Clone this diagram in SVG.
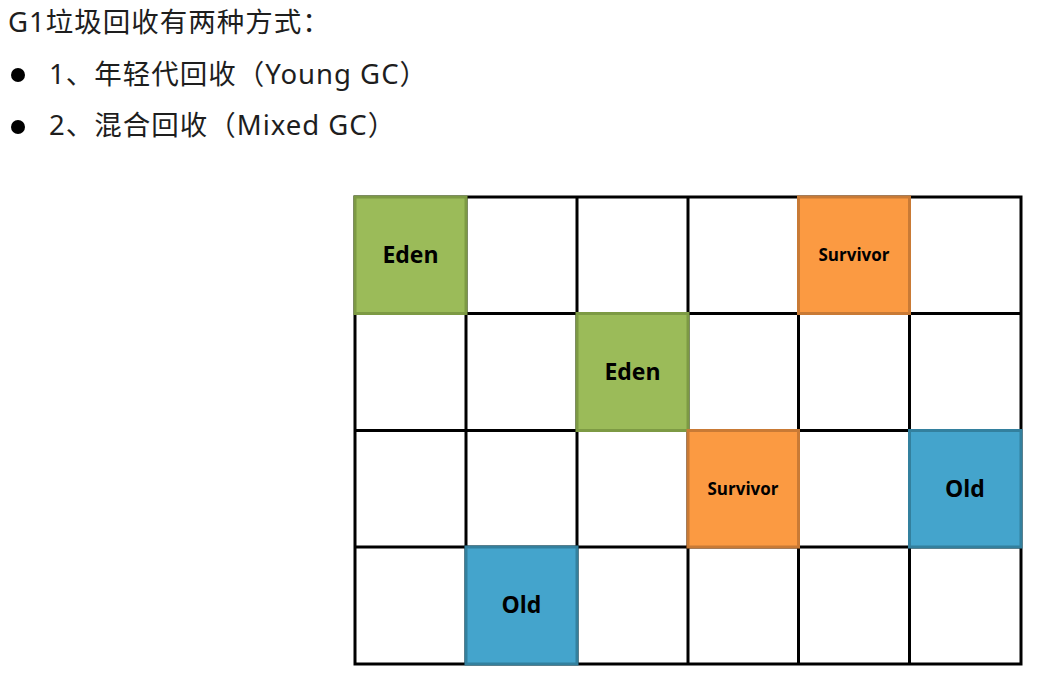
<svg xmlns="http://www.w3.org/2000/svg" width="1042" height="678" viewBox="0 0 1042 678">
<style>
.hdr{font-family:"Noto Sans","Noto Sans CJK SC",sans-serif;font-size:27.5px;fill:#1e1e1e;letter-spacing:1px}
.grid{stroke:#000;stroke-width:3;fill:none}
.lbl{font-family:"Open Sans","Noto Sans",sans-serif;font-weight:bold;fill:#000;text-anchor:middle}
.big{font-size:23px}
.small{font-size:17px}
.eden{fill:#9bbb59;stroke:#7d9a44;stroke-width:3}
.surv{fill:#fb9a42;stroke:#c97a35;stroke-width:3}
.old{fill:#44a4cc;stroke:#33809e;stroke-width:3}
</style>
<rect width="1042" height="678" fill="#fff"/>
<g id="header">
<text class="hdr" x="8" y="32">G1垃圾回收有两种方式：</text>
<circle cx="18" cy="75" r="7" fill="#000"/>
<text class="hdr" x="49" y="84">1、年轻代回收（Young GC）</text>
<circle cx="18" cy="127" r="7" fill="#000"/>
<text class="hdr" x="49" y="135">2、混合回收（Mixed GC）</text>
</g>
<g id="grid" class="grid">
<rect x="355" y="197" width="666" height="467"/>
<line x1="466" y1="197" x2="466" y2="664"/>
<line x1="577" y1="197" x2="577" y2="664"/>
<line x1="688" y1="197" x2="688" y2="664"/>
<line x1="798.5" y1="197" x2="798.5" y2="664"/>
<line x1="909.5" y1="197" x2="909.5" y2="664"/>
<line x1="355" y1="313.5" x2="1021" y2="313.5"/>
<line x1="355" y1="430.5" x2="1021" y2="430.5"/>
<line x1="355" y1="547" x2="1021" y2="547"/>
</g>
<g id="eden1"><rect class="eden" x="355" y="197" width="111" height="116.5"/><text class="lbl big" x="410.5" y="263">Eden</text></g>
<g id="survivor1"><rect class="surv" x="798.5" y="197" width="111" height="116.5"/><text class="lbl small" x="854" y="261">Survivor</text></g>
<g id="eden2"><rect class="eden" x="577" y="313.5" width="111" height="117"/><text class="lbl big" x="632.5" y="380">Eden</text></g>
<g id="survivor2"><rect class="surv" x="688" y="430.5" width="110.5" height="116.5"/><text class="lbl small" x="743" y="495">Survivor</text></g>
<g id="old1"><rect class="old" x="909.5" y="430.5" width="111.5" height="116.5"/><text class="lbl big" x="965" y="497">Old</text></g>
<g id="old2"><rect class="old" x="466" y="547" width="111" height="117"/><text class="lbl big" x="521.5" y="613">Old</text></g>
</svg>
